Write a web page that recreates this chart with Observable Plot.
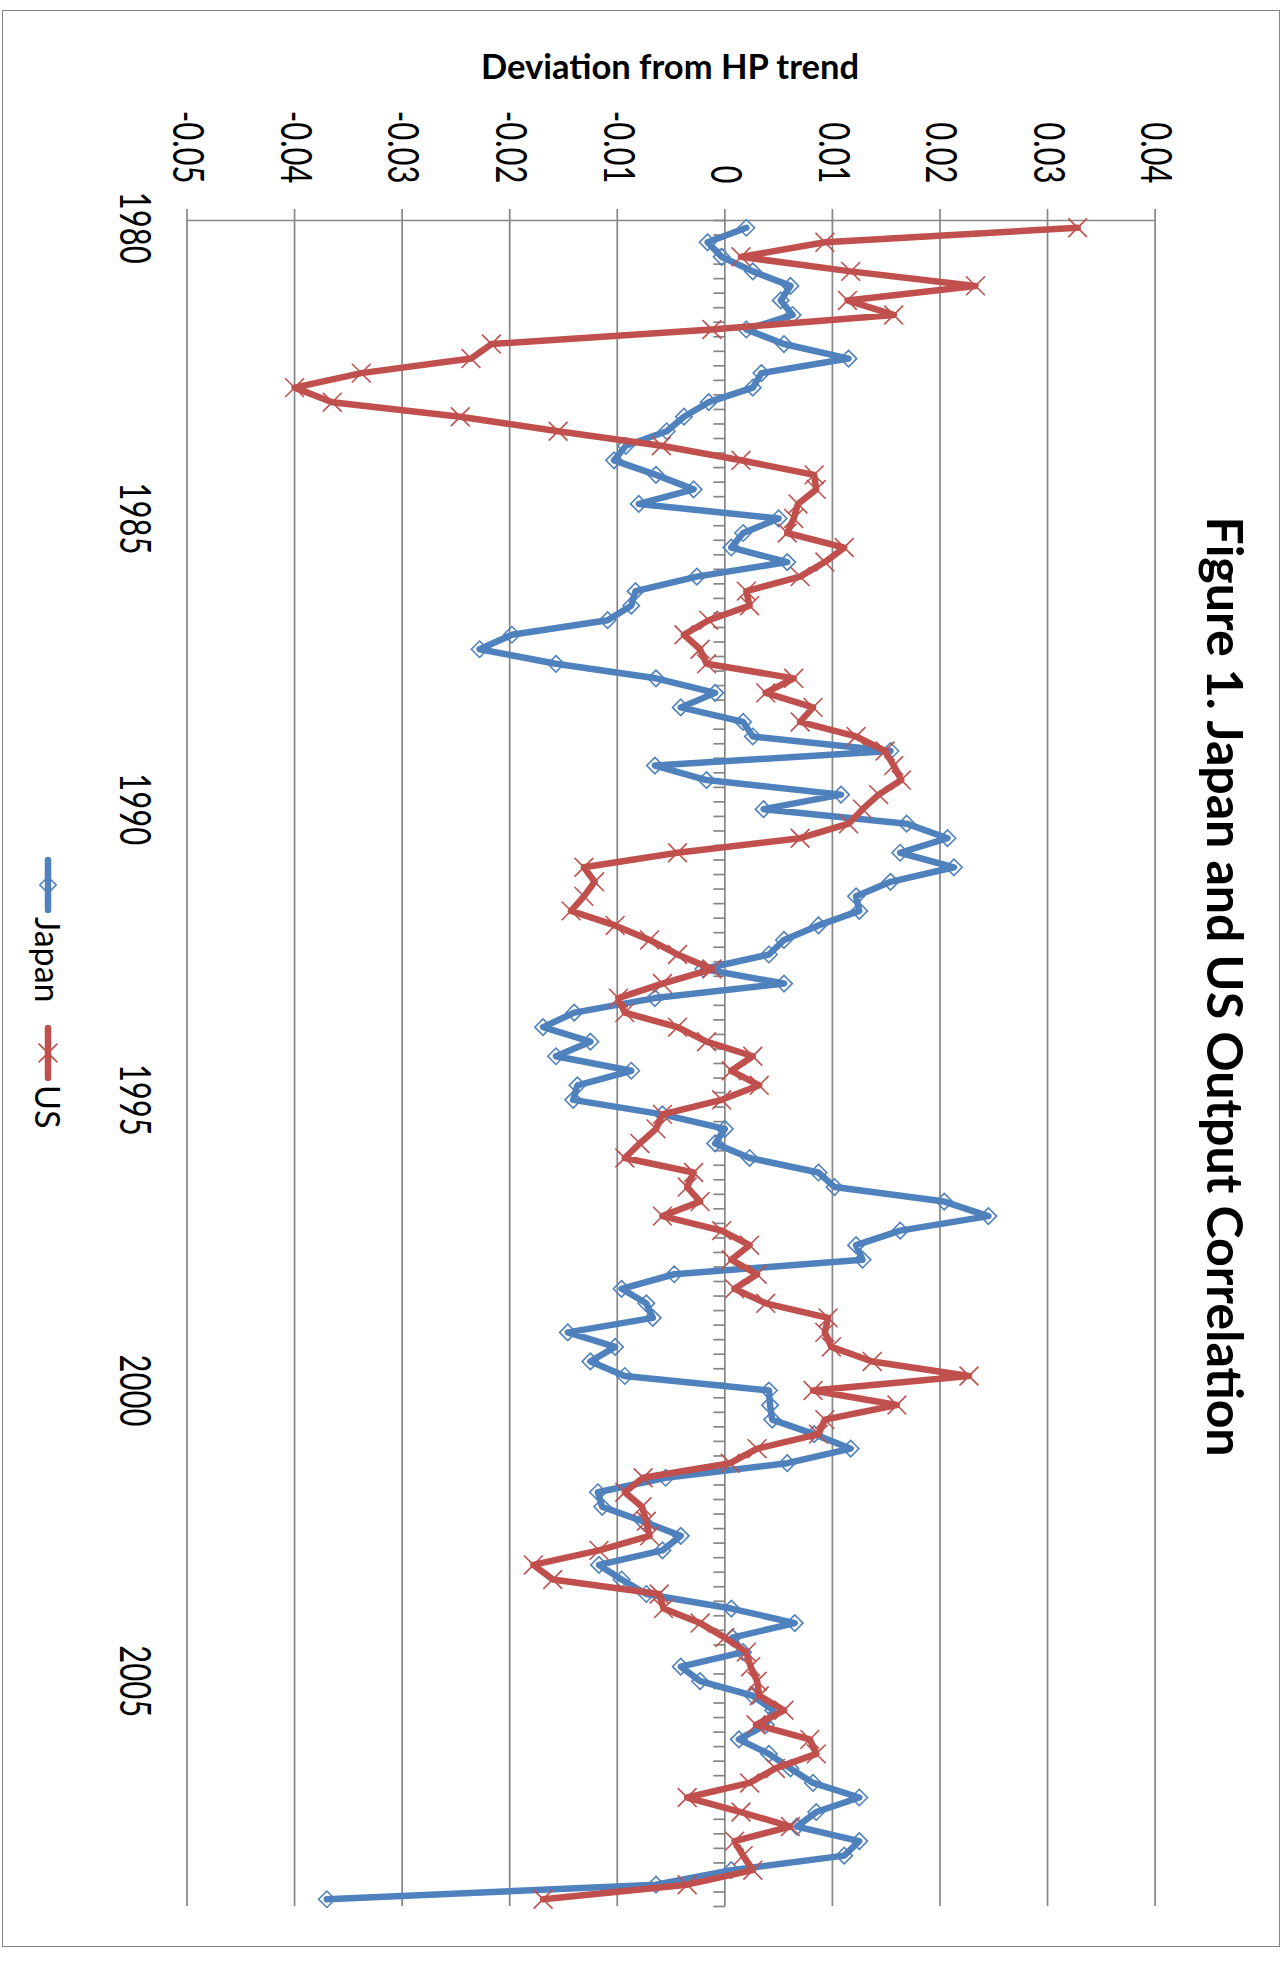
<!DOCTYPE html>
<html>
<head>
<meta charset="utf-8">
<script src="https://cdn.jsdelivr.net/npm/d3@7"></script>
<script src="https://cdn.jsdelivr.net/npm/@observablehq/plot@0.6"></script>
<style>
  html, body { margin: 0; padding: 0; background: #fff; overflow: hidden; }
  /* The chart is laid out landscape and turned a quarter turn clockwise onto the page. */
  #page {
    position: absolute; left: 0; top: 0;
    width: 1963px; height: 1282px;
    transform-origin: 0 0;
    transform: translate(1282px, 0) rotate(90deg);
    font-family: Lato, "Open Sans", sans-serif; color: #000;
  }
  #frame {
    position: absolute; left: 10px; top: 2px; width: 1937px; height: 1278px;
    border: 1.5px solid #868686; box-sizing: border-box;
  }
  #chart { position: absolute; left: 0; top: 0; }
  #title {
    position: absolute; left: 5px; width: 1963px; top: 26px;
    text-align: center; font-weight: 700; font-size: 50px; line-height: 1.2; white-space: nowrap;
  }
  #ytitle {
    position: absolute; left: 66px; top: 612px;
    transform: translate(-50%, -50%) rotate(-90deg);
    font-weight: 700; font-size: 34.5px; line-height: 1.2; white-space: nowrap;
  }
  .legend-item {
    position: absolute; top: 1214px; height: 40px;
    display: flex; align-items: center; font-size: 34px; line-height: 1.2; white-space: nowrap;
  }
  .legend-item svg { display: block; margin-right: 4px; }
</style>
</head>
<body>
<div id="page">
  <div id="frame"></div>
  <div id="chart"></div>
  <div id="title">Figure 1. Japan and US Output Correlation</div>
  <div id="ytitle">Deviation from HP trend</div>
</div>
<script>
// Quarterly deviation of output from its Hodrick–Prescott trend, 1980Q1–2008Q4
const startYear = 1980;

const japan = [
  0.0020, -0.0016, -0.0003, 0.0026, 0.0061, 0.0052, 0.0063, 0.0020, 0.0055, 0.0115,
  0.0034, 0.0026, -0.0015, -0.0038, -0.0054, -0.0092, -0.0103, -0.0064, -0.0029, -0.0080,
  0.0050, 0.0017, 0.0006, 0.0058, -0.0026, -0.0083, -0.0087, -0.0109, -0.0198, -0.0228,
  -0.0157, -0.0064, -0.0009, -0.0041, 0.0017, 0.0026, 0.0154, -0.0065, -0.0017, 0.0108,
  0.0036, 0.0169, 0.0207, 0.0163, 0.0213, 0.0154, 0.0122, 0.0125, 0.0087, 0.0055,
  0.0041, -0.0020, 0.0055, -0.0065, -0.0140, -0.0169, -0.0125, -0.0157, -0.0087, -0.0137,
  -0.0141, -0.0058, 0.0000, -0.0009, 0.0023, 0.0087, 0.0102, 0.0204, 0.0245, 0.0163,
  0.0122, 0.0128, -0.0047, -0.0096, -0.0073, -0.0067, -0.0146, -0.0102, -0.0125, -0.0093,
  0.0041, 0.0042, 0.0044, 0.0083, 0.0117, 0.0058, -0.0055, -0.0118, -0.0114, -0.0076,
  -0.0041, -0.0058, -0.0117, -0.0096, -0.0073, 0.0006, 0.0065, 0.0007, 0.0017, -0.0041,
  -0.0023, 0.0026, 0.0045, 0.0038, 0.0013, 0.0041, 0.0061, 0.0082, 0.0125, 0.0085,
  0.0067, 0.0125, 0.0111, 0.0006, -0.0064, -0.0370
];

const us = [
  0.0328, 0.0093, 0.0015, 0.0117, 0.0233, 0.0114, 0.0157, -0.0012, -0.0217, -0.0236,
  -0.0338, -0.0400, -0.0365, -0.0246, -0.0155, -0.0059, 0.0015, 0.0083, 0.0085, 0.0068,
  0.0064, 0.0058, 0.0111, 0.0093, 0.0070, 0.0020, 0.0023, -0.0015, -0.0038, -0.0023,
  -0.0017, 0.0064, 0.0038, 0.0082, 0.0070, 0.0122, 0.0149, 0.0157, 0.0164, 0.0143,
  0.0128, 0.0115, 0.0070, -0.0044, -0.0131, -0.0121, -0.0131, -0.0143, -0.0102, -0.0070,
  -0.0044, -0.0012, -0.0058, -0.0099, -0.0093, -0.0044, -0.0017, 0.0026, 0.0006, 0.0032,
  -0.0003, -0.0058, -0.0064, -0.0079, -0.0093, -0.0029, -0.0035, -0.0023, -0.0058, -0.0003,
  0.0023, 0.0006, 0.0030, 0.0009, 0.0038, 0.0096, 0.0093, 0.0099, 0.0137, 0.0227,
  0.0082, 0.0160, 0.0093, 0.0087, 0.0030, 0.0005, -0.0076, -0.0093, -0.0077, -0.0073,
  -0.0070, -0.0117, -0.0178, -0.0160, -0.0061, -0.0057, -0.0023, 0.0000, 0.0020, 0.0024,
  0.0030, 0.0032, 0.0055, 0.0029, 0.0079, 0.0085, 0.0047, 0.0023, -0.0035, 0.0015,
  0.0061, 0.0009, 0.0017, 0.0026, -0.0035, -0.0169
];

const yearLabels = [1980, 1985, 1990, 1995, 2000, 2005];
const valueTicks = [-0.05, -0.04, -0.03, -0.02, -0.01, 0, 0.01, 0.02, 0.03, 0.04];

const series = [
  {name: "Japan", values: japan, color: "#4F81BD", symbol: "diamond2", r: 7.4},
  {name: "US", values: us, color: "#C0504D", symbol: "times", r: 8.6}
];

// each quarter sits in the middle of its category slot on a decimal-year axis
const quarterTime = (i) => startYear + i / 4;
const nQuarters = japan.length;
const xStart = quarterTime(0) - 0.125;
const xEnd = quarterTime(nQuarters - 1) + 0.125;
const slotEdges = d3.range(nQuarters + 1).map((k) => xStart + k / 4);

const gridColor = "#868686";
const fmt = (d) => (d === 0 ? "0" : d.toFixed(2));

const seriesMarks = series.flatMap((s) => {
  const rows = s.values.map((v, i) => ({t: quarterTime(i), v}));
  return [
    Plot.line(rows, {x: "t", y: "v", stroke: s.color, strokeWidth: 6.5, strokeLinejoin: "round", strokeLinecap: "round"}),
    Plot.dot(rows, {x: "t", y: "v", symbol: s.symbol, r: s.r, stroke: s.color, strokeWidth: 1.6, fill: "none"})
  ];
});

const chart = Plot.plot({
  width: 1963,
  height: 1282,
  marginLeft: 220,
  marginRight: 57,
  marginTop: 126.4,
  marginBottom: 187.5,
  style: {fontFamily: "Lato, sans-serif", fontSize: "31px", background: "transparent", color: "#000", overflow: "visible"},
  x: {domain: [xStart, xEnd], axis: null},
  y: {domain: [-0.05, 0.04], axis: null},
  marks: [
    // value gridlines
    Plot.ruleY(valueTicks, {stroke: gridColor, strokeWidth: 1.7}),
    // value axis line with outside tick marks
    Plot.ruleX([xStart], {stroke: gridColor, strokeWidth: 1.7}),
    Plot.ruleY(valueTicks, {x1: xStart, x2: xStart, insetLeft: -11, stroke: gridColor, strokeWidth: 1.7}),
    // category axis crossing at zero, one tick per quarter
    Plot.ruleX(slotEdges, {y1: 0, y2: 0, insetBottom: -12, stroke: gridColor, strokeWidth: 1.7}),
    Plot.text(valueTicks, {y: (d) => d, frameAnchor: "left", dx: -37, textAnchor: "end", text: fmt, className: "axis-label"}),
    Plot.text(yearLabels, {x: (d) => d, frameAnchor: "bottom", dy: 67, text: (d) => String(d), className: "axis-label"}),
    ...seriesMarks
  ]
});

// axis labels use tall glyphs: stretch them across the reading direction about their anchor
d3.select(chart).selectAll(".axis-label text").attr("transform", function () {
  return (this.getAttribute("transform") || "") + " scale(1,1.38)";
});
document.getElementById("chart").appendChild(chart);

// legend: line swatch with the series marker, then the series name
const page = document.getElementById("page");
const legendLeft = [857, 1025];
series.forEach((s, k) => {
  const item = document.createElement("div");
  item.className = "legend-item";
  item.style.left = legendLeft[k] + "px";
  const size = Math.PI * s.r * s.r;
  const symbolPath = d3.symbol(s.symbol === "times" ? d3.symbolTimes : d3.symbolDiamond2, size)();
  item.innerHTML =
    `<svg width="56" height="40" viewBox="0 0 56 40">
       <line x1="3" x2="53" y1="20" y2="20" stroke="${s.color}" stroke-width="6.5" stroke-linecap="round"/>
       <path d="${symbolPath}" transform="translate(28,20)" fill="none" stroke="${s.color}" stroke-width="1.6"/>
     </svg><span>${s.name}</span>`;
  page.appendChild(item);
});
</script>
</body>
</html>
